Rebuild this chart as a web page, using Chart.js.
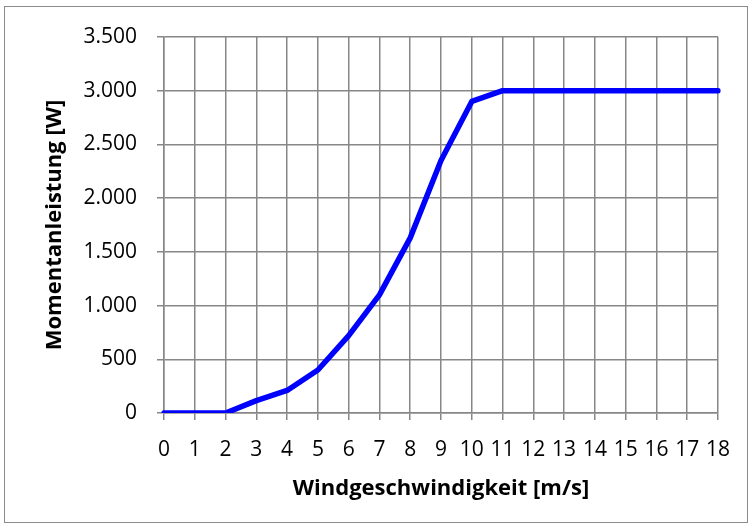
<!DOCTYPE html>
<html>
<head>
<meta charset="utf-8">
<script src="https://cdn.jsdelivr.net/npm/chart.js@4.4.0/dist/chart.umd.min.js"></script>
<style>
  html, body { margin: 0; padding: 0; background: #fff; }
  #wrap { width: 752px; height: 529px; }
</style>
</head>
<body>
<div id="wrap"><canvas id="powerChart" width="752" height="529"></canvas></div>
<script>
// Windgeschwindigkeit [m/s]
const windSpeeds = [0, 1, 2, 3, 4, 5, 6, 7, 8, 9, 10, 11, 12, 13, 14, 15, 16, 17, 18];
// Momentanleistung [W]
const powerValues = [0, 0, 0, 115, 210, 400, 720, 1100, 1630, 2350, 2900, 3000, 3000, 3000, 3000, 3000, 3000, 3000, 3000];
const yMin = 0;
const yMax = 3500;
const yStep = 500;

const gridGrey = '#878787';
const fontFamily = '"Open Sans", "Liberation Sans", sans-serif';

// german thousands separator
function formatDe(v) {
  return String(v).replace(/\B(?=(\d{3})+(?!\d))/g, '.');
}

// outer frame like the office chart
const frameBorder = {
  id: 'frameBorder',
  afterDraw(chart) {
    const c = chart.ctx;
    c.save();
    c.strokeStyle = '#8c8c8c';
    c.lineWidth = 1;
    c.strokeRect(4.5, 6.5, 743, 516);
    c.restore();
  }
};

const ctx = document.getElementById('powerChart');
new Chart(ctx, {
  type: 'line',
  data: {
    labels: windSpeeds,
    datasets: [{
      label: 'Momentanleistung',
      data: powerValues,
      borderColor: '#0000ff',
      backgroundColor: '#0000ff',
      borderWidth: 5.5,
      borderCapStyle: 'round',
      borderJoinStyle: 'round',
      pointRadius: 0,
      fill: false,
      tension: 0
    }]
  },
  options: {
    responsive: false,
    animation: false,
    layout: {
      padding: { left: 0, top: 37, right: 34, bottom: 0 }
    },
    plugins: {
      legend: { display: false },
      tooltip: { enabled: false }
    },
    scales: {
      x: {
        type: 'category',
        offset: false,
        grid: { color: gridGrey, lineWidth: 1.5, tickLength: 7, drawTicks: true },
        border: { display: true, color: gridGrey, width: 1.5 },
        ticks: {
          color: '#000',
          font: { family: fontFamily, size: 21 },
          padding: 17,
          maxRotation: 0,
          autoSkip: false
        },
        title: {
          display: true,
          text: 'Windgeschwindigkeit [m/s]',
          color: '#000',
          font: { family: fontFamily, size: 22, weight: 'bold' },
          padding: { top: 0, bottom: 27 }
        },
        afterFit(scale) { scale.height = 529 - 413; }
      },
      y: {
        min: yMin,
        max: yMax,
        grid: { color: gridGrey, lineWidth: 1.5, tickLength: 7, drawTicks: true },
        border: { display: true, color: gridGrey, width: 1.5 },
        ticks: {
          stepSize: yStep,
          color: '#000',
          font: { family: fontFamily, size: 21 },
          padding: 20,
          callback: (v) => formatDe(v)
        },
        title: {
          display: true,
          text: 'Momentanleistung [W]',
          color: '#000',
          font: { family: fontFamily, size: 22, weight: 'bold' },
          padding: { top: 42, bottom: 0 }
        },
        afterFit(scale) { scale.width = 164; }
      }
    }
  },
  plugins: [frameBorder]
});
</script>
</body>
</html>
